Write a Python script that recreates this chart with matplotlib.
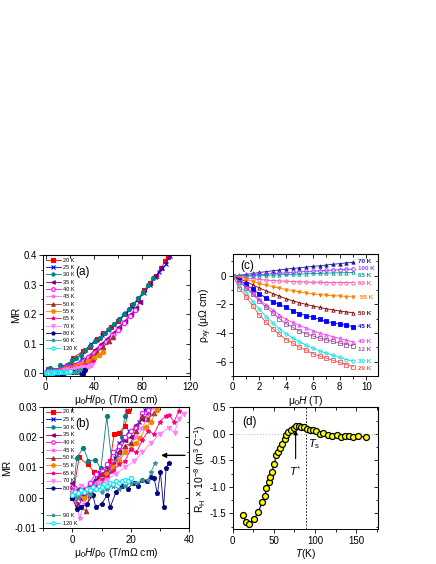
import matplotlib
matplotlib.use("Agg")
import matplotlib.pyplot as plt
from matplotlib.ticker import MultipleLocator, FormatStrFormatter

plt.rcParams['font.family'] = ['Liberation Sans', 'DejaVu Sans']
plt.rcParams['mathtext.fontset'] = 'custom'
plt.rcParams['mathtext.rm'] = 'Liberation Sans'
plt.rcParams['mathtext.it'] = 'Liberation Sans:italic'
plt.rcParams['mathtext.default'] = 'regular'

# ---- datos panel (a) y (b): MR vs mu0H/rho0 (el (b) es un zoom del (a))
temps_mr = ['20 K', '25 K', '30 K', '35 K', '40 K', '45 K', '50 K', '55 K',
            '65 K', '70 K', '80 K', '90 K', '120 K']

x20 = [0, 2.3, 5.2, 7.5, 9.2, 11.3, 13, 14.3, 16, 18, 19.2, 20.5, 23, 31, 37, 43, 48, 54, 60, 66, 72, 77, 82, 87, 92, 96, 99, 102]
mr20 = [0, 0.0133, 0.011, 0.0085, 0.0071, 0.0074, 0.012, 0.021, 0.0215, 0.0235, 0.0285, 0.033, 0.053, 0.075, 0.09, 0.115, 0.135, 0.155, 0.178, 0.2, 0.23, 0.25, 0.28, 0.305, 0.33, 0.355, 0.378, 0.392]
x25 = [0, 1.5, 3, 5, 7, 9, 10.5, 12.5, 14.5, 16, 17.5, 19.5, 21.5, 23, 25, 26.5, 30, 33, 38, 42, 47, 52, 57, 62, 67, 72, 77, 82, 87, 91, 94, 97, 100, 103]
mr25 = [0.001, -0.002, -0.0005, 0.003, 0.005, 0.0085, 0.009, 0.009, 0.013, 0.018, 0.019, 0.022, 0.023, 0.025, 0.029, 0.033, 0.05, 0.08, 0.1, 0.112, 0.128, 0.147, 0.165, 0.185, 0.205, 0.225, 0.25, 0.273, 0.3, 0.325, 0.343, 0.355, 0.368, 0.397]
x30 = [0, 1.5, 3.8, 5.5, 7.8, 9.8, 11.8, 13.8, 15.5, 17, 18, 19, 22, 25, 29, 33, 37, 41, 45, 49, 53, 57, 61, 65, 69, 73, 77, 81, 85, 89]
mr30 = [0, 0.0132, 0.0165, 0.0122, 0.0125, 0.0097, 0.0268, 0.0095, 0.013, 0.02, 0.027, 0.033, 0.045, 0.052, 0.062, 0.078, 0.093, 0.108, 0.121, 0.136, 0.151, 0.167, 0.183, 0.2, 0.217, 0.235, 0.255, 0.275, 0.297, 0.321]
x35 = [0, 2, 4, 6, 8, 10, 12, 14, 16, 18, 20, 22, 24, 26, 28, 32, 36, 41, 46, 51, 56, 61, 66, 71, 75, 78]
mr35 = [0.005, 0.003, 0.001, 0.004, 0.006, 0.008, 0.01, 0.012, 0.015, 0.019, 0.02, 0.024, 0.026, 0.0275, 0.031, 0.045, 0.06, 0.08, 0.098, 0.117, 0.136, 0.157, 0.178, 0.2, 0.22, 0.24]
x40 = [0, 2, 4, 6, 8, 10, 12, 14, 16, 18, 20, 22, 24, 26, 28, 31, 35, 40, 45, 50, 55, 60, 65, 70, 74]
mr40 = [0.0035, -0.001, 0.002, 0.005, 0.008, 0.009, 0.011, 0.015, 0.017, 0.02, 0.022, 0.023, 0.028, 0.029, 0.031, 0.04, 0.055, 0.07, 0.088, 0.107, 0.128, 0.148, 0.17, 0.193, 0.215]
x45 = [0, 2.5, 4, 6, 8, 10, 12, 14, 16, 18, 20, 22, 24, 26, 28, 32, 37, 42, 47, 52, 57]
mr45 = [0.0025, -0.0065, -0.002, 0.003, 0.005, 0.007, 0.009, 0.012, 0.013, 0.016, 0.018, 0.02, 0.023, 0.027, 0.03, 0.042, 0.055, 0.072, 0.09, 0.11, 0.13]
x50 = [0, 2, 4.5, 6, 8, 10, 12, 14, 16, 18, 20, 22, 24, 26, 28, 29.5, 33, 38, 43, 48, 53, 56]
mr50 = [0.002, -0.002, -0.0043, 0.001, 0.004, 0.008, 0.009, 0.011, 0.015, 0.017, 0.018, 0.022, 0.027, 0.026, 0.028, 0.0305, 0.042, 0.056, 0.072, 0.09, 0.108, 0.122]
x55 = [0, 2, 4, 6, 8, 10, 12, 14, 16, 18, 20, 22, 23.2, 25.3, 27, 28.9, 30.5, 35, 40, 44, 48]
mr55 = [0.002, 0.001, 0.0, 0.002, 0.004, 0.005, 0.008, 0.01, 0.012, 0.015, 0.016, 0.018, 0.0196, 0.0234, 0.025, 0.029, 0.031, 0.042, 0.052, 0.062, 0.072]
x65 = [0, 2, 4, 6, 8, 10, 12, 14, 16, 18, 20, 22, 24, 26, 28, 30, 32, 33.2, 34.9, 36.5, 38, 39.5]
mr65 = [0.001, 0.002, 0.003, 0.002, 0.004, 0.006, 0.007, 0.009, 0.011, 0.012, 0.016, 0.015, 0.019, 0.022, 0.021, 0.025, 0.027, 0.0274, 0.025, 0.0287, 0.035, 0.042]
x70 = [0, 3, 6, 9, 12, 15, 18, 21, 24, 27, 30, 33, 35.1, 36.5, 38.2]
mr70 = [0.002, 0.004, 0.003, 0.005, 0.006, 0.008, 0.01, 0.012, 0.015, 0.018, 0.021, 0.023, 0.0215, 0.026, 0.0277]
x80 = [0, 1.5, 3, 5, 7, 8, 10, 12, 13, 15, 17, 19, 21, 22.5, 24, 25.5, 27, 28, 29.2, 30.2, 31.3, 32.2, 33]
mr80 = [0.0, -0.0035, -0.003, -0.002, 0.001, -0.003, -0.002, 0.001, -0.003, 0.002, 0.004, 0.003, 0.005, 0.004, 0.006, 0.0055, 0.007, 0.0065, 0.0015, 0.0085, -0.003, 0.0098, 0.0115]
x90 = [0, 2, 4, 6, 8, 10, 12, 14, 16, 18, 20, 22, 24, 26, 27, 28.3]
mr90 = [0.001, 0.0, 0.002, 0.001, 0.003, 0.002, 0.003, 0.004, 0.003, 0.004, 0.005, 0.005, 0.006, 0.006, 0.0085, 0.0115]
x120 = [0, 1, 2, 3, 4, 5, 6, 7, 8, 9, 10, 11, 12, 13, 14, 15, 16, 17, 18, 19, 20]
mr120 = [0.001, 0.002, 0.0015, 0.0025, 0.002, 0.003, 0.0025, 0.0035, 0.003, 0.004, 0.0035, 0.0045, 0.004, 0.005, 0.0045, 0.0055, 0.005, 0.0055, 0.006, 0.0055, 0.0065]

xs_mr = [x20, x25, x30, x35, x40, x45, x50, x55, x65, x70, x80, x90, x120]
ys_mr = [mr20, mr25, mr30, mr35, mr40, mr45, mr50, mr55, mr65, mr70, mr80, mr90, mr120]

# estilo de cada temperatura (color, marcador, relleno)
estilos_mr = [('#ff0000', 's', True), ('#0000ff', 'x', True), ('#008080', 'H', True),
              ('#800080', '<', True), ('#ff00ff', 'o', False), ('#ff66ff', '*', False),
              ('#993333', '^', True), ('#ff8000', 'o', True), ('#ff0080', '*', True),
              ('#ff80ff', 'v', True), ('#000080', 'p', True), ('#339999', '*', True),
              ('#00e5ff', 'H', False)]

# ---- datos panel (c): rho_xy vs mu0H
campo = [0, 0.5, 1, 1.5, 2, 2.5, 3, 3.5, 4, 4.5, 5, 5.5, 6, 6.5, 7, 7.5, 8, 8.5, 9]
temps_hall = ['70 K', '100 K', '65 K', '60 K', '55 K', '50 K', '45 K', '40 K', '12 K', '30 K', '20 K']
rho70 = [0, 0.04, 0.09, 0.16, 0.23, 0.29, 0.35, 0.41, 0.47, 0.51, 0.56, 0.61, 0.66, 0.7, 0.75, 0.8, 0.85, 0.9, 0.94]
rho100 = [0, 0.01, 0.02, 0.05, 0.09, 0.12, 0.16, 0.18, 0.21, 0.24, 0.28, 0.3, 0.33, 0.35, 0.38, 0.4, 0.42, 0.45, 0.47]
rho65 = [0, -0.02, -0.02, -0.01, 0.0, 0.03, 0.05, 0.07, 0.09, 0.1, 0.12, 0.14, 0.16, 0.17, 0.19, 0.2, 0.21, 0.22, 0.23]
rho60 = [0, -0.07, -0.14, -0.2, -0.26, -0.3, -0.33, -0.36, -0.38, -0.4, -0.42, -0.44, -0.45, -0.46, -0.47, -0.47, -0.47, -0.47, -0.47]
rho55 = [0, -0.13, -0.26, -0.4, -0.54, -0.66, -0.77, -0.87, -0.96, -1.05, -1.13, -1.2, -1.27, -1.32, -1.36, -1.39, -1.41, -1.45, -1.48]
rho50 = [0, -0.2, -0.4, -0.63, -0.85, -1.05, -1.24, -1.42, -1.6, -1.75, -1.88, -2.0, -2.11, -2.2, -2.3, -2.38, -2.46, -2.52, -2.58]
rho45 = [0, -0.3, -0.6, -0.95, -1.25, -1.55, -1.83, -2.0, -2.2, -2.45, -2.65, -2.78, -2.9, -3.05, -3.19, -3.28, -3.37, -3.45, -3.55]
rho40 = [0, -0.4, -0.75, -1.2, -1.65, -2.05, -2.4, -2.75, -3.05, -3.25, -3.47, -3.65, -3.83, -4.0, -4.13, -4.25, -4.37, -4.5, -4.6]
rho12 = [0, -0.4, -0.85, -1.3, -1.75, -2.2, -2.6, -3.0, -3.35, -3.6, -3.85, -4.05, -4.2, -4.35, -4.47, -4.58, -4.7, -4.8, -4.88]
rho30 = [0, -0.7, -1.2, -1.8, -2.35, -2.85, -3.3, -3.7, -4.05, -4.35, -4.6, -4.85, -5.05, -5.25, -5.4, -5.55, -5.7, -5.85, -5.95]
rho20 = [0, -0.9, -1.45, -2.1, -2.75, -3.25, -3.7, -4.1, -4.45, -4.7, -5.0, -5.2, -5.45, -5.6, -5.75, -5.9, -6.05, -6.2, -6.35]
rhos = [rho70, rho100, rho65, rho60, rho55, rho50, rho45, rho40, rho12, rho30, rho20]
pos_etiqueta = [1.0, 0.52, 0.05, -0.54, -1.55, -2.6, -3.54, -4.58, -5.14, -5.96, -6.5]
estilos_hall = [('#1a1aa0', '^', True), ('#a040ff', 'D', False), ('#009999', '^', False),
                ('#ff4da6', 'o', False), ('#ff8000', 'v', True), ('#800000', '^', False),
                ('#0000ff', 's', True), ('#ff33ff', '^', False), ('#a050a0', 's', False),
                ('#00e0e0', 'o', False), ('#ff5050', 's', False)]

# ---- datos panel (d): R_H vs T
temp_rh = [12.6, 15.8, 19.9, 26.0, 31.2, 36.0, 38.9, 41.0, 44.2, 45.4, 47.4, 50.6, 52.7, 55.1, 57.1, 59.5, 63.2, 65.2, 67.7, 70.5,
           74.6, 77.4, 80.6, 83.4, 86.2, 90.7, 94.4, 97.6, 101.7, 105.7, 109.8, 116.2, 121.1, 126.8, 131.2, 136.9, 141.8, 146.6, 151.8, 161.6]
rh = [-1.525, -1.67, -1.70, -1.61, -1.47, -1.28, -1.17, -1.03, -0.91, -0.82, -0.72, -0.57, -0.40, -0.35, -0.27, -0.19, -0.09, -0.02, 0.03, 0.08,
      0.11, 0.145, 0.14, 0.13, 0.12, 0.095, 0.08, 0.07, 0.045, 0.0, 0.02, -0.03, -0.045, -0.03, -0.057, -0.05, -0.045, -0.057, -0.05, -0.057]
T_star = 76.5
T_s = 88.5


def marco(ax, xmaj, xmin, ymaj, ymin):
    # ticks fuera abajo/izquierda y hacia dentro arriba/derecha (estilo Origin)
    ax.xaxis.set_major_locator(MultipleLocator(xmaj))
    ax.xaxis.set_minor_locator(MultipleLocator(xmin))
    ax.yaxis.set_major_locator(MultipleLocator(ymaj))
    ax.yaxis.set_minor_locator(MultipleLocator(ymin))
    ax.tick_params(which='both', direction='out', labelsize=7, width=0.6, pad=1.5)
    ax.tick_params(which='major', length=3)
    ax.tick_params(which='minor', length=1.8)
    for s in ax.spines.values():
        s.set_linewidth(0.7)
    top = ax.secondary_xaxis('top')
    top.xaxis.set_major_locator(MultipleLocator(xmaj))
    top.xaxis.set_minor_locator(MultipleLocator(xmin))
    top.tick_params(which='both', direction='in', labeltop=False, width=0.6)
    top.tick_params(which='major', length=3)
    top.tick_params(which='minor', length=1.8)
    der = ax.secondary_yaxis('right')
    der.yaxis.set_major_locator(MultipleLocator(ymaj))
    der.yaxis.set_minor_locator(MultipleLocator(ymin))
    der.tick_params(which='both', direction='in', labelright=False, width=0.6)
    der.tick_params(which='major', length=3)
    der.tick_params(which='minor', length=1.8)


def curvas_mr(ax, ms):
    lineas = []
    for x, y, lab, (c, m, lleno) in zip(xs_mr, ys_mr, temps_mr, estilos_mr):
        l, = ax.plot(x, y, color=c, lw=0.6, marker=m, ms=ms, mew=0.8,
                     mfc=c if lleno else 'white', mec=c, label=lab, clip_on=True)
        lineas.append(l)
    return lineas


fig = plt.figure(figsize=(4.36, 5.64), dpi=100)
ax_a = fig.add_axes([0.0993, 0.3339, 0.3365, 0.214])
ax_c = fig.add_axes([0.5337, 0.3333, 0.334, 0.2158])
ax_b = fig.add_axes([0.0993, 0.0633, 0.334, 0.2156])
ax_d = fig.add_axes([0.5337, 0.0615, 0.334, 0.2163])

xlab_mr = r'$\mathrm{\mu_0}\mathit{H}/\mathrm{\rho_0}$ (T/m$\Omega$ cm)'

# (a)
lin = curvas_mr(ax_a, 3.2)
ax_a.set_xlim(-2, 120)
ax_a.set_ylim(-0.008, 0.4)
marco(ax_a, 40, 20, 0.1, 0.05)
ax_a.yaxis.set_major_formatter(FormatStrFormatter('%.1f'))
ax_a.set_xlabel(xlab_mr, fontsize=7.5, labelpad=1)
ax_a.set_ylabel('MR', fontsize=7.5, labelpad=2)
ax_a.legend(fontsize=4, loc='upper left', frameon=False, handlelength=2.6,
            labelspacing=0.42, borderaxespad=0.1, markerscale=0.8, handletextpad=0.5)
ax_a.text(31, 0.343, '(a)', fontsize=8.5, ha='center', va='center')

# (b)
lin = curvas_mr(ax_b, 3.2)
ax_b.set_xlim(-10, 40)
ax_b.set_ylim(-0.01, 0.03)
marco(ax_b, 20, 10, 0.01, 0.005)
ax_b.yaxis.set_major_formatter(FormatStrFormatter('%.2f'))
ax_b.set_xlabel(xlab_mr, fontsize=7.5, labelpad=1)
ax_b.set_ylabel('MR', fontsize=7.5, labelpad=2)
leg1 = ax_b.legend(lin[:11], temps_mr[:11], fontsize=4, loc='upper left', frameon=False,
                   handlelength=2.6, labelspacing=0.48, borderaxespad=0.1, markerscale=0.8,
                   handletextpad=0.5)
ax_b.add_artist(leg1)
ax_b.legend(lin[11:], temps_mr[11:], fontsize=4, loc='lower left', frameon=False,
            handlelength=2.6, labelspacing=0.5, borderaxespad=0.0, markerscale=0.8,
            handletextpad=0.5)
ax_b.text(3.5, 0.0242, '(b)', fontsize=8.5, ha='center', va='center')
ax_b.annotate('', xy=(29.5, 0.014), xytext=(39.6, 0.014),
              arrowprops=dict(arrowstyle='-|>', color='k', lw=1.0, mutation_scale=7))

# (c)
for y, lab, (c, m, lleno), yl in zip(rhos, temps_hall, estilos_hall, pos_etiqueta):
    ax_c.plot(campo, y, color=c, lw=0.6, marker=m, ms=2.4, mew=0.6,
              mfc=c if lleno else 'none', mec=c)
    dx = 9.5 if lab == '55 K' else 9.35
    ax_c.text(dx, yl, lab, color=c, fontsize=4.5, fontweight='bold', va='center', ha='left')
ax_c.set_xlim(0, 10.9)
ax_c.set_ylim(-7.0, 1.5)
marco(ax_c, 2, 1, 2, 1)
ax_c.set_xlabel(r'$\mathrm{\mu_0}\mathit{H}$ (T)', fontsize=7.5, labelpad=1)
ax_c.set_ylabel(r'$\mathrm{\rho_{xy}}$ ($\mathrm{\mu\Omega}$ cm)', fontsize=7.5, labelpad=1)
ax_c.text(1.05, 0.7, '(c)', fontsize=8.5, ha='center', va='center')

# (d)
ax_d.axhline(0, color='#c0c0c0', ls=':', lw=0.8)
ax_d.axvline(T_s, color='k', ls=(0, (2, 2)), lw=0.6)
ax_d.plot(temp_rh, rh, color='k', lw=0.8, marker='o', ms=4.3, mfc='#ffff00', mec='k', mew=0.9)
ax_d.annotate('', xy=(T_star, 0.12), xytext=(T_star, -0.52),
              arrowprops=dict(arrowstyle='-|>', color='k', lw=0.8, mutation_scale=6))
ax_d.text(T_star - 1, -0.7, r'$\mathit{T}^{*}$', fontsize=8, ha='center', va='center')
ax_d.text(T_s + 3, -0.2, r'$\mathit{T}_{\mathrm{s}}$', fontsize=8, ha='left', va='center')
ax_d.set_xlim(0, 177)
ax_d.set_ylim(-1.8, 0.5)
marco(ax_d, 50, 25, 0.5, 0.25)
ax_d.yaxis.set_major_formatter(FormatStrFormatter('%.1f'))
ax_d.set_xlabel(r'$\mathit{T}$(K)', fontsize=7.5, labelpad=1)
ax_d.set_ylabel(r'R$_\mathrm{H}$ × 10$^{-8}$ (m$^3$ C$^{-1}$)', fontsize=7.5, labelpad=1)
ax_d.text(20, 0.22, '(d)', fontsize=8.5, ha='center', va='center')

fig.savefig('out.png', dpi=100)
